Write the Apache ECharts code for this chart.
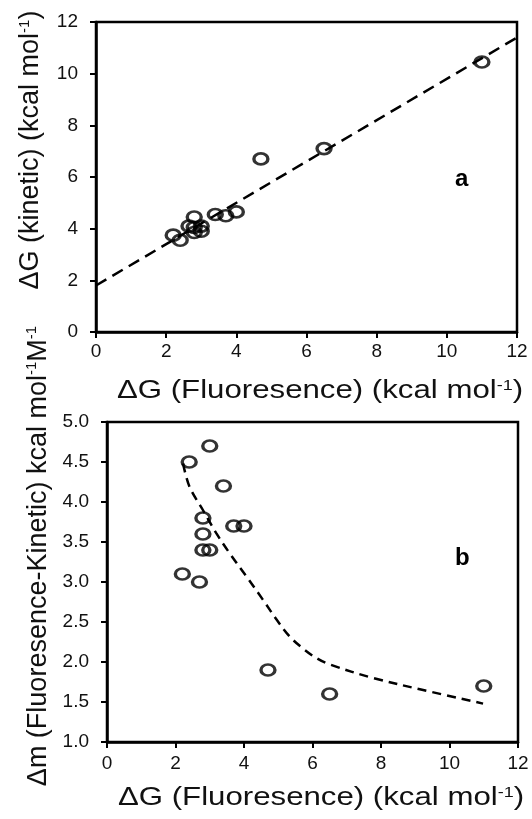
<!DOCTYPE html>
<html>
<head>
<meta charset="utf-8">
<script src="https://cdn.jsdelivr.net/npm/echarts@6/dist/echarts.min.js"></script>
<style>
html,body{margin:0;padding:0;background:#fff;}
#chart{width:532px;height:819px;}
</style>
</head>
<body>
<div id="chart"></div>
<script>
// Panel a: ΔG kinetic vs ΔG fluoresence
const topX = [2.2, 2.4, 2.65, 2.8, 2.8, 2.8, 3.0, 3.0, 3.4, 3.7, 4.0, 4.7, 6.5, 11.0];
const topY = [3.75, 3.55, 4.1, 4.45, 4.05, 3.85, 3.9, 4.1, 4.55, 4.5, 4.65, 6.7, 7.1, 10.45];
const fitTopX = [0, 12];
const fitTopY = [1.8, 11.4];

// Panel b: Δm vs ΔG fluoresence
const botX = [2.4, 3.0, 3.4, 2.8, 3.7, 4.0, 2.8, 2.8, 3.0, 2.2, 2.7, 4.7, 6.5, 11.0];
const botY = [4.5, 4.7, 4.2, 3.8, 3.7, 3.7, 3.6, 3.4, 3.4, 3.1, 3.0, 1.9, 1.6, 1.7];
const curveX = [2.22, 2.41, 2.80, 3.19, 3.58, 4.07, 4.55, 4.95, 5.33, 5.72, 6.11, 6.5, 7.77, 9.23, 10.98];
const curveY = [4.48, 4.19, 3.90, 3.61, 3.36, 3.07, 2.78, 2.53, 2.32, 2.17, 2.05, 1.97, 1.80, 1.65, 1.48];

const xTitle = 'ΔG (Fluoresence) (kcal mol{sup|-1})';
const yTitleTop = 'ΔG (kinetic) (kcal mol{sup|-1})';
const yTitleBot = 'Δm (Fluoresence-Kinetic) kcal mol{sup|-1}M{sup|-1}';
const panelLabels = ['a', 'b'];

const FONT = 'Liberation Sans, Arial, sans-serif';
const zip = (a, b) => a.map((v, i) => [v, b[i]]);

const chart = echarts.init(document.getElementById('chart'), null, {renderer: 'canvas'});

const lineStyle = {color: '#000', width: 2.5};
const axisCommon = {
  type: 'value',
  axisLine: {show: true, onZero: false, lineStyle: lineStyle},
  axisTick: {show: true, inside: false, length: 6, lineStyle: {color: '#000', width: 2}},
  splitLine: {show: false},
  axisLabel: {color: '#111', fontFamily: FONT, fontSize: 19}
};
const supRich = {sup: {fontSize: 15, verticalAlign: 'top', fontFamily: FONT, color: '#111'}};
const nameStyle = (pad) => ({color: '#111', fontFamily: FONT, fontSize: 27, padding: pad, rich: supRich});
const xTitleGraphic = (cx, cy) => ({
  type: 'text', x: cx, y: cy, scaleX: 1.2, z: 10,
  style: {
    text: xTitle, align: 'center', verticalAlign: 'middle',
    fill: '#111', font: '26px ' + FONT,
    rich: {sup: {fontSize: 15, verticalAlign: 'top', padding: [0, 0, 8, 0], fontFamily: FONT, fill: '#111'}}
  }
});

chart.setOption({
  animation: false,
  backgroundColor: '#fff',
  grid: [
    {left: 96, top: 22, right: 15, height: 310, show: true, borderColor: '#000', borderWidth: 2.5},
    {left: 107, top: 422, right: 14, height: 320, show: true, borderColor: '#000', borderWidth: 2.5}
  ],
  xAxis: [
    Object.assign({}, axisCommon, {
      gridIndex: 0, min: 0, max: 12, interval: 2,
      axisLabel: Object.assign({}, axisCommon.axisLabel, {margin: 10})
    }),
    Object.assign({}, axisCommon, {
      gridIndex: 1, min: 0, max: 12, interval: 2,
      axisLabel: Object.assign({}, axisCommon.axisLabel, {margin: 12})
    })
  ],
  yAxis: [
    Object.assign({}, axisCommon, {
      gridIndex: 0, min: 0, max: 12, interval: 2,
      axisLabel: Object.assign({}, axisCommon.axisLabel, {margin: 18}),
      name: yTitleTop, nameLocation: 'middle', nameGap: 52,
      nameTextStyle: nameStyle([0, 0, 0, 54])
    }),
    Object.assign({}, axisCommon, {
      gridIndex: 1, min: 1, max: 5, interval: 0.5,
      axisLabel: Object.assign({}, axisCommon.axisLabel, {margin: 18, formatter: v => v.toFixed(1)}),
      name: yTitleBot, nameLocation: 'middle', nameGap: 54,
      nameTextStyle: nameStyle([0, 0, 0, 52])
    })
  ],
  series: [
    {
      type: 'line', xAxisIndex: 0, yAxisIndex: 0, data: zip(fitTopX, fitTopY),
      showSymbol: false, symbol: 'none',
      lineStyle: {color: '#000', width: 2.5, type: [12, 7]}, z: 2
    },
    {
      type: 'scatter', xAxisIndex: 0, yAxisIndex: 0, data: zip(topX, topY),
      symbol: 'circle', symbolSize: [14, 11],
      itemStyle: {color: 'rgba(255,255,255,0)', borderColor: '#000', borderWidth: 3}, z: 3
    },
    {
      type: 'line', xAxisIndex: 1, yAxisIndex: 1, data: zip(curveX, curveY),
      showSymbol: false, symbol: 'none', smooth: 0.35,
      lineStyle: {color: '#000', width: 2.5, type: [9, 6]}, z: 2
    },
    {
      type: 'scatter', xAxisIndex: 1, yAxisIndex: 1, data: zip(botX, botY),
      symbol: 'circle', symbolSize: [14, 11],
      itemStyle: {color: 'rgba(255,255,255,0)', borderColor: '#000', borderWidth: 3}, z: 3
    }
  ],
  graphic: [
    xTitleGraphic(320, 391),
    xTitleGraphic(321, 798),
    {type: 'text', left: 455, top: 167, style: {text: panelLabels[0], font: 'bold 24px ' + FONT, fill: '#000'}},
    {type: 'text', left: 455, top: 546, style: {text: panelLabels[1], font: 'bold 24px ' + FONT, fill: '#000'}}
  ]
});
</script>
</body>
</html>
